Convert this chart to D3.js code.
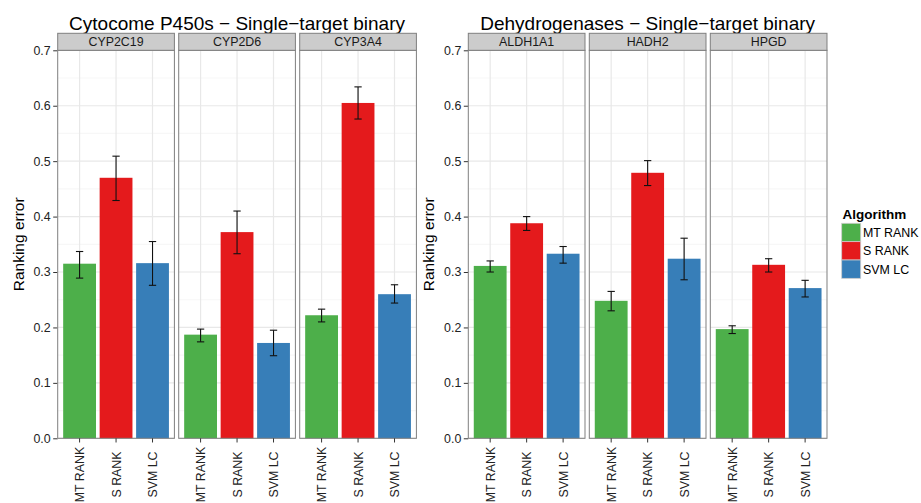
<!DOCTYPE html>
<html>
<head>
<meta charset="utf-8">
<script src="https://cdn.jsdelivr.net/npm/d3@7"></script>
<style>
  html, body { margin: 0; padding: 0; background: #fff; }
  svg { display: block; }
  text { font-family: "Liberation Sans", Arial, sans-serif; }
</style>
</head>
<body>
<svg id="chart" width="921" height="503"></svg>
<script>
// ---- data ----
const algorithms = ["MT RANK", "S RANK", "SVM LC"];
const algoColors = ["#4daf4a", "#e41a1c", "#377eb8"];

const leftTitle = "Cytocome P450s \u2212 Single\u2212target binary";
const rightTitle = "Dehydrogenases \u2212 Single\u2212target binary";
const leftTargets = ["CYP2C19", "CYP2D6", "CYP3A4"];
const rightTargets = ["ALDH1A1", "HADH2", "HPGD"];
const targets = leftTargets.concat(rightTargets);

// values in order of targets
const mtRankMean = [0.315, 0.187, 0.222, 0.311, 0.248, 0.197];
const mtRankLo   = [0.289, 0.174, 0.210, 0.300, 0.230, 0.189];
const mtRankHi   = [0.337, 0.197, 0.233, 0.320, 0.265, 0.203];
const sRankMean  = [0.470, 0.372, 0.605, 0.388, 0.479, 0.313];
const sRankLo    = [0.429, 0.333, 0.576, 0.375, 0.456, 0.300];
const sRankHi    = [0.509, 0.410, 0.634, 0.400, 0.501, 0.324];
const svmLcMean  = [0.316, 0.172, 0.260, 0.333, 0.324, 0.271];
const svmLcLo    = [0.276, 0.149, 0.244, 0.316, 0.286, 0.255];
const svmLcHi    = [0.355, 0.195, 0.277, 0.346, 0.361, 0.285];

const yTicks = [0, 0.1, 0.2, 0.3, 0.4, 0.5, 0.6, 0.7];
const yMinor = [0.05, 0.15, 0.25, 0.35, 0.45, 0.55, 0.65];
const yLabel = "Ranking error";
const legendTitle = "Algorithm";

// build rows
const means = [mtRankMean, sRankMean, svmLcMean];
const los = [mtRankLo, sRankLo, svmLcLo];
const his = [mtRankHi, sRankHi, svmLcHi];
const rows = [];
targets.forEach((t, ti) => {
  algorithms.forEach((a, ai) => {
    rows.push({ target: t, algo: a, value: means[ai][ti], lo: los[ai][ti], hi: his[ai][ti] });
  });
});

// ---- layout ----
const svg = d3.select("#chart");
const color = d3.scaleOrdinal().domain(algorithms).range(algoColors);
const y = d3.scaleLinear().domain([0, 0.7]).range([438.3, 50.3]);
const stripTop = 33.3;
const panelGap = 4.3;
const panelW = 116.7;

const plots = [
  { title: leftTitle, targets: leftTargets, x0: 57.7 },
  { title: rightTitle, targets: rightTargets, x0: 468.3 }
];

plots.forEach(p => {
  const totalW = 3 * panelW + 2 * panelGap;
  const step = panelW + panelGap;
  const fx = d3.scaleBand().domain(p.targets).range([p.x0, p.x0 + totalW])
    .paddingInner(panelGap / step).paddingOuter(0);
  const xb = d3.scaleBand().domain(algorithms).range([0, fx.bandwidth()])
    .paddingInner(0.1).paddingOuter(0.15);
  const g = svg.append("g");

  // title
  g.append("text")
    .attr("x", p.x0 + totalW / 2).attr("y", 30)
    .attr("text-anchor", "middle")
    .attr("font-size", 19).attr("fill", "#000")
    .text(p.title);

  // y label
  g.append("text")
    .attr("transform", `translate(${p.x0 - 34.2},${(y(0) + y(0.7)) / 2}) rotate(-90)`)
    .attr("text-anchor", "middle")
    .attr("font-size", 15.5).attr("fill", "#000")
    .text(yLabel);

  // y axis ticks + labels
  const yAxis = d3.axisLeft(y).tickValues(yTicks).tickFormat(d3.format(".1f"))
    .tickSize(4.5).tickPadding(2.5);
  const ya = g.append("g").attr("transform", `translate(${p.x0},0)`).call(yAxis);
  ya.select(".domain").remove();
  ya.selectAll(".tick line").attr("stroke", "#333");
  ya.selectAll(".tick text").attr("font-size", 12.4).attr("fill", "#222")
    .attr("font-family", "'Liberation Sans', Arial, sans-serif");

  p.targets.forEach(t => {
    const px = fx(t);
    const w = fx.bandwidth();
    const pg = g.append("g").attr("transform", `translate(${px},0)`);
    // panel background
    pg.append("rect").attr("x", 0).attr("y", y(0.7)).attr("width", w)
      .attr("height", y(0) - y(0.7)).attr("fill", "#fff");
    // minor grid
    pg.selectAll(".minor").data(yMinor).enter().append("line")
      .attr("x1", 0).attr("x2", w).attr("y1", d => y(d)).attr("y2", d => y(d))
      .attr("stroke", "#f7f7f7").attr("stroke-width", 1.2);
    // major grid
    pg.selectAll(".major").data(yTicks).enter().append("line")
      .attr("x1", 0).attr("x2", w).attr("y1", d => y(d)).attr("y2", d => y(d))
      .attr("stroke", "#e8e8e8").attr("stroke-width", 1.2);
    pg.selectAll(".vmajor").data(algorithms).enter().append("line")
      .attr("x1", d => xb(d) + xb.bandwidth() / 2).attr("x2", d => xb(d) + xb.bandwidth() / 2)
      .attr("y1", y(0)).attr("y2", y(0.7))
      .attr("stroke", "#e8e8e8").attr("stroke-width", 1.2);

    const data = rows.filter(r => r.target === t);
    // bars
    pg.selectAll(".bar").data(data).enter().append("rect")
      .attr("x", d => xb(d.algo)).attr("width", xb.bandwidth())
      .attr("y", d => y(d.value)).attr("height", d => y(0) - y(d.value))
      .attr("fill", d => color(d.algo));
    // error bars
    const eb = pg.selectAll(".eb").data(data).enter().append("g")
      .attr("stroke", "#111").attr("stroke-width", 1.1);
    const ew = xb.step() * 0.2 / 2;
    eb.append("line")
      .attr("x1", d => xb(d.algo) + xb.bandwidth() / 2).attr("x2", d => xb(d.algo) + xb.bandwidth() / 2)
      .attr("y1", d => y(d.lo)).attr("y2", d => y(d.hi));
    eb.append("line")
      .attr("x1", d => xb(d.algo) + xb.bandwidth() / 2 - ew).attr("x2", d => xb(d.algo) + xb.bandwidth() / 2 + ew)
      .attr("y1", d => y(d.hi)).attr("y2", d => y(d.hi));
    eb.append("line")
      .attr("x1", d => xb(d.algo) + xb.bandwidth() / 2 - ew).attr("x2", d => xb(d.algo) + xb.bandwidth() / 2 + ew)
      .attr("y1", d => y(d.lo)).attr("y2", d => y(d.lo));

    // panel border
    pg.append("rect").attr("x", 0).attr("y", y(0.7)).attr("width", w)
      .attr("height", y(0) - y(0.7)).attr("fill", "none")
      .attr("stroke", "#7f7f7f").attr("stroke-width", 1);
    // strip
    pg.append("rect").attr("x", 0).attr("y", stripTop).attr("width", w)
      .attr("height", y(0.7) - stripTop).attr("fill", "#cccccc")
      .attr("stroke", "#7f7f7f").attr("stroke-width", 1);
    pg.append("text").attr("x", w / 2).attr("y", (stripTop + y(0.7)) / 2)
      .attr("dy", "0.36em")
      .attr("text-anchor", "middle").attr("font-size", 12.4).attr("fill", "#1a1a1a")
      .text(t);

    // x axis
    const xAxis = d3.axisBottom(xb).tickSize(4.2).tickFormat("");
    const xa = pg.append("g").attr("transform", `translate(0,${y(0)})`).call(xAxis);
    xa.select(".domain").remove();
    xa.selectAll(".tick line").attr("stroke", "#333");
    pg.selectAll(".xl").data(algorithms).enter().append("text")
      .attr("transform", d => `translate(${xb(d) + xb.bandwidth() / 2},474.5) rotate(-90)`)
      .attr("text-anchor", "middle").attr("dy", "0.36em")
      .attr("font-size", 12.4).attr("fill", "#222")
      .text(d => d);
  });
});

// ---- legend ----
const lg = svg.append("g");
lg.append("text").attr("x", 842.5).attr("y", 219)
  .attr("font-size", 13.5).attr("font-weight", "bold").attr("fill", "#000")
  .text(legendTitle);
const keyH = 18.35, keyW = 19, keyX = 841.7, keyY = 223.3;
algorithms.forEach((a, i) => {
  lg.append("rect").attr("x", keyX).attr("y", keyY + i * keyH)
    .attr("width", keyW).attr("height", keyH)
    .attr("fill", color(a)).attr("stroke", "#cccccc").attr("stroke-width", 0.8);
  lg.append("text").attr("x", 863).attr("y", keyY + i * keyH + keyH / 2)
    .attr("dy", "0.36em").attr("font-size", 12.4).attr("fill", "#000")
    .text(a);
});
</script>
</body>
</html>
